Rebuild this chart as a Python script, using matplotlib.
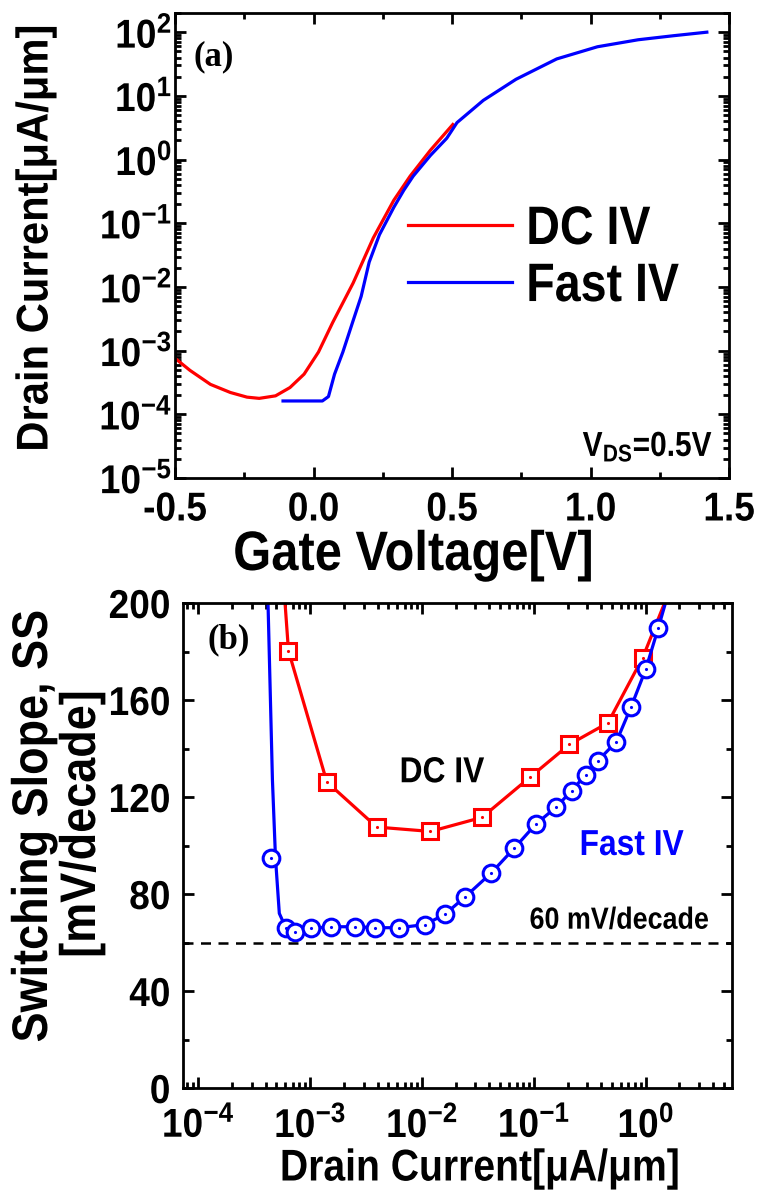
import matplotlib
matplotlib.use('Agg')
import math
import matplotlib.pyplot as plt
from matplotlib.patheffects import AbstractPathEffect
from matplotlib.transforms import Affine2D
from matplotlib.ticker import LogLocator, MultipleLocator, FixedLocator, NullFormatter, FuncFormatter

# ---------------- data ----------------
# (a) transfer curves: gate voltage [V] vs drain current [uA/um]
dc_vg = [-0.5, -0.446, -0.372, -0.30, -0.24, -0.196, -0.137, -0.085, -0.034, 0.018,
         0.069, 0.143, 0.216, 0.29, 0.349, 0.422, 0.503]
dc_id = [7.6e-4, 4.9e-4, 2.95e-4, 2.2e-4, 1.86e-4, 1.78e-4, 1.95e-4, 2.63e-4, 4.27e-4,
         9.5e-4, 2.75e-3, 1.15e-2, 5.9e-2, 0.23, 0.55, 1.4, 3.55]
fast_vg = [-0.110, 0.032, 0.054, 0.076, 0.106, 0.143, 0.172, 0.201, 0.238, 0.29, 0.326,
           0.36, 0.422, 0.481, 0.518, 0.613, 0.731, 0.878, 1.025, 1.172, 1.30, 1.42]
fast_id = [1.62e-4, 1.62e-4, 1.9e-4, 4.27e-4, 9.5e-4, 2.95e-3, 7.1e-3, 2.45e-2, 6.6e-2,
           0.178, 0.33, 0.55, 1.16, 2.16, 3.8, 8.5, 18.2, 38, 59, 76, 88, 100]

# (b) switching slope [mV/decade] vs drain current [uA/um]
dc_ss_id = [6.4e-4, 1.41e-3, 3.94e-3, 1.19e-2, 3.44e-2, 9.2e-2, 0.208, 0.46, 0.94]
dc_ss = [180.3, 126.2, 107.6, 105.8, 111.6, 128.1, 141.7, 150.6, 177.5]
dc_line_id = [5.65e-4] + dc_ss_id + [1.8]
dc_line_ss = [215] + dc_ss + [210]

fast_ss_id = [4.5e-4, 6.04e-4, 7.33e-4, 1.02e-3, 1.53e-3, 2.52e-3, 3.8e-3, 6.25e-3,
              1.06e-2, 1.6e-2, 2.44e-2, 4.14e-2, 6.68e-2, 0.104, 0.159, 0.217, 0.291,
              0.374, 0.546, 0.74, 1.0, 1.29]
fast_ss = [94.8, 66.1, 64.4, 65.8, 66.5, 66.5, 66.1, 66.1, 67.4, 71.6, 78.9, 88.6, 98.9,
           108.8, 115.9, 122.6, 129.2, 135.0, 142.8, 157.2, 172.7, 189.5]
fast_line_id = [4.0e-4, 4.2e-4, 4.6e-4, 4.9e-4, 5.3e-4, 5.8e-4] + fast_ss_id[1:] + [1.5, 1.65]
fast_line_ss = [230, 200, 127, 94.8, 72, 68] + fast_ss[1:] + [200, 212]

ideal_ss = 60
top_xticks = [-0.5, 0.0, 0.5, 1.0, 1.5]
top_xticklabels = ['-0.5', '0.0', '0.5', '1.0', '1.5']
top_yticks = [1e-5, 1e-4, 1e-3, 1e-2, 1e-1, 1e0, 1e1, 1e2]
bot_xticks = [1e-4, 1e-3, 1e-2, 1e-1, 1e0]
bot_yticks = [0, 40, 80, 120, 160, 200]

# ---------------- style ----------------
SANS = 'Liberation Sans'
plt.rcParams['font.family'] = [SANS, 'DejaVu Sans']
plt.rcParams['font.weight'] = 'bold'
plt.rcParams['mathtext.fontset'] = 'custom'
plt.rcParams['mathtext.rm'] = SANS + ':bold'
plt.rcParams['mathtext.bf'] = SANS + ':bold'
plt.rcParams['mathtext.it'] = SANS + ':bold'
plt.rcParams['axes.linewidth'] = 2.0

RED = '#ff0000'
BLUE = '#0000ff'
TICK_FS = 29
TICK_SX = 0.92
W, H = 759.0, 1191.0


class Condense(AbstractPathEffect):
    """Draw text glyphs horizontally compressed (narrow bold look)."""
    def __init__(self, sx=0.85, anchor='center'):
        super().__init__(offset=(0, 0))
        self.sx = sx
        self.anchor = anchor

    def draw_path(self, renderer, gc, tpath, affine, rgbFace=None):
        ext = tpath.get_extents()
        if self.anchor == 'left':
            cx = ext.x0
        elif self.anchor == 'right':
            cx = ext.x1
        else:
            cx = 0.5 * (ext.x0 + ext.x1)
        tr = Affine2D().translate(-cx, 0).scale(self.sx, 1.0).translate(cx, 0) + affine
        renderer.draw_path(gc, tpath, tr, rgbFace)


def fx(px):
    return px / W


def fy(py):
    return 1 - py / H


fig = plt.figure(figsize=(7.59, 11.91), dpi=100)
ax1 = fig.add_axes([fx(175), fy(478), fx(729) - fx(175), fy(13) - fy(478)])
ax2 = fig.add_axes([fx(183), fy(1088), fx(732) - fx(183), fy(603) - fy(1088)])


def style_ticks(ax, xpad, ypad):
    ax.tick_params(which='both', direction='in', top=True, right=True, width=2)
    ax.tick_params(which='major', length=8, labelsize=TICK_FS)
    ax.tick_params(which='minor', length=4)
    ax.tick_params(axis='x', pad=xpad)
    ax.tick_params(axis='y', pad=ypad)


def pow_fmt(v, pos):
    e = int(round(math.log10(v)))
    return r'$\mathbf{10^{%d}}$' % e


# ---- (a) ----
ax1.plot(dc_vg, dc_id, color=RED, lw=2.3, label='DC IV')
ax1.plot(fast_vg, fast_id, color=BLUE, lw=2.3, label='Fast IV')
ax1.set_yscale('log')
ax1.set_xlim(-0.5, 1.5)
ax1.set_ylim(1e-5, 2e2)
ax1.xaxis.set_major_locator(FixedLocator(top_xticks))
ax1.set_xticklabels(top_xticklabels)
ax1.xaxis.set_minor_locator(MultipleLocator(0.25))
ax1.yaxis.set_major_locator(FixedLocator(top_yticks))
ax1.yaxis.set_minor_locator(LogLocator(base=10, subs=range(2, 10), numticks=20))
ax1.yaxis.set_major_formatter(FuncFormatter(pow_fmt))
ax1.yaxis.set_minor_formatter(NullFormatter())
style_ticks(ax1, 9, 2)
ax1.text(0.033, 0.905, '(a)', transform=ax1.transAxes, fontsize=25, fontweight='bold',
         family='Liberation Serif', va='center', ha='left')
ax1.text(0.972, 0.067, r'V$_{\mathbf{DS}}$=0.5V', transform=ax1.transAxes, fontsize=25,
         fontweight='bold', ha='right', va='center',
         path_effects=[Condense(0.86, 'right')])
leg = ax1.legend(loc='center left', bbox_to_anchor=(0.42, 0.472), frameon=False,
                 fontsize=39, handlelength=1.92, handletextpad=0.26, labelspacing=0.13,
                 borderpad=0, borderaxespad=0)
for t in leg.get_texts():
    t.set_path_effects([Condense(0.86, 'left')])

fig.text(fx(36), fy(238), 'Drain Current[\u03bcA/\u03bcm]', rotation=90, fontsize=32,
         fontweight='bold', ha='center', va='center', path_effects=[Condense(0.94)])
fig.text(fx(413), fy(556), 'Gate Voltage[V]', fontsize=40, fontweight='bold',
         ha='center', va='center', path_effects=[Condense(0.88)])

# ---- (b) ----
ax2.plot(dc_line_id, dc_line_ss, color=RED, lw=2.3)
ax2.plot(dc_ss_id, dc_ss, ls='none', marker='s', ms=11, mfc='white', mec=RED, mew=2.2)
ax2.plot(dc_ss_id, dc_ss, ls='none', marker='.', ms=2.5, color=RED)
ax2.plot(fast_line_id, fast_line_ss, color=BLUE, lw=2.3)
ax2.plot(fast_ss_id, fast_ss, ls='none', marker='o', ms=12, mfc='white', mec=BLUE, mew=2.2)
ax2.plot(fast_ss_id, fast_ss, ls='none', marker='.', ms=2.5, color=BLUE)
ax2.axhline(ideal_ss, color='black', lw=1.8, ls=(0, (4, 3)))
ax2.set_xscale('log')
ax2.set_xlim(7.3e-5, 5.9)
ax2.set_ylim(0, 200)
ax2.yaxis.set_major_locator(FixedLocator(bot_yticks))
ax2.yaxis.set_minor_locator(MultipleLocator(20))
ax2.xaxis.set_major_locator(FixedLocator(bot_xticks))
ax2.xaxis.set_minor_locator(LogLocator(base=10, subs=range(2, 10), numticks=20))
ax2.xaxis.set_major_formatter(FuncFormatter(pow_fmt))
ax2.xaxis.set_minor_formatter(NullFormatter())
style_ticks(ax2, 13, 9)
ax2.text(0.045, 0.925, '(b)', transform=ax2.transAxes, fontsize=25, fontweight='bold',
         family='Liberation Serif', va='center', ha='left')
ax2.text(1.5e-2, 130, 'DC IV', fontsize=26, fontweight='bold', ha='center', va='center',
         path_effects=[Condense(0.88)])
ax2.text(0.745, 100, 'Fast IV', fontsize=26, fontweight='bold', ha='center', va='center',
         color=BLUE, path_effects=[Condense(0.88)])
ax2.text(0.58, 69, '60 mV/decade', fontsize=22, fontweight='bold', ha='center',
         va='center', path_effects=[Condense(0.88)])

fig.text(fx(480), fy(1169), 'Drain Current[\u03bcA/\u03bcm]', fontsize=32,
         fontweight='bold', ha='center', va='center', path_effects=[Condense(0.88)])
fig.text(fx(34), fy(826), 'Switching Slope, SS', rotation=90, fontsize=36,
         fontweight='bold', ha='center', va='center', path_effects=[Condense(0.9)])
fig.text(fx(82), fy(824), '[mV/decade]', rotation=90, fontsize=36,
         fontweight='bold', ha='center', va='center', path_effects=[Condense(0.9)])

# compress tick labels like the narrow bold face of the original
fig.canvas.draw()
for ax in (ax1, ax2):
    for tk in ax.xaxis.get_major_ticks():
        tk.label1.set_path_effects([Condense(TICK_SX, 'center')])
    for tk in ax.yaxis.get_major_ticks():
        tk.label1.set_path_effects([Condense(TICK_SX, 'right')])

fig.savefig('out.png', dpi=100)
